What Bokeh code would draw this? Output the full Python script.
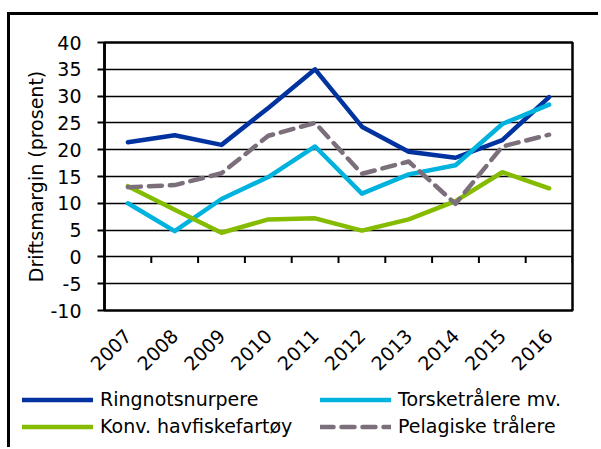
from bokeh.plotting import figure
from bokeh.layouts import column
from bokeh.models import FixedTicker, Legend, LegendItem, Range1d
from bokeh.embed import file_html
from bokeh.resources import INLINE

years = ["2007", "2008", "2009", "2010", "2011", "2012", "2013", "2014", "2015", "2016"]
ringnot = [21.4, 22.7, 20.9, 27.8, 35.0, 24.3, 19.6, 18.5, 21.8, 29.8]
torske = [10.0, 4.8, 10.8, 14.9, 20.6, 11.8, 15.4, 17.1, 24.8, 28.4]
konv = [13.2, 8.8, 4.5, 7.0, 7.2, 4.9, 7.0, 10.4, 15.8, 12.8]
pelagisk = [13.0, 13.4, 15.6, 22.6, 25.0, 15.5, 17.8, 9.9, 20.6, 22.8]
y_ticks = [-10, -5, 0, 5, 10, 15, 20, 25, 30, 35, 40]

FONT = "DejaVu Sans"
FS = "19px"
x = list(range(len(years)))
colors = ["#0033A0", "#00B2DE", "#86BC00", "#7B6F7B"]
dashes = ["solid", "solid", "solid", "13 8"]
series = [ringnot, torske, konv, pelagisk]
common = dict(line_width=4.5, line_cap="round", line_join="round")

W = 588
p = figure(width=W, height=366, output_backend="svg", toolbar_location=None,
           x_range=Range1d(-0.5, len(years) - 0.5), y_range=Range1d(y_ticks[0], y_ticks[-1]),
           min_border_left=94, min_border_right=26, min_border_top=27, min_border_bottom=71)

p.outline_line_color = "black"
p.outline_line_width = 2.5
p.xgrid.visible = False
p.ygrid.ticker = FixedTicker(ticks=y_ticks)
p.ygrid.grid_line_color = "black"
p.ygrid.grid_line_width = 1.6

p.yaxis.ticker = FixedTicker(ticks=y_ticks)
p.yaxis.major_label_overrides = {t: str(t) for t in y_ticks}
p.yaxis.axis_line_width = 2.5
p.yaxis.major_tick_line_width = 2
p.yaxis.major_tick_out = 7
p.yaxis.major_tick_in = 0
p.yaxis.minor_tick_line_color = None
p.yaxis.major_label_standoff = 16
p.yaxis.major_label_text_font = FONT
p.yaxis.major_label_text_font_size = FS
p.yaxis.major_label_text_color = "black"
p.yaxis.axis_label = "Driftsmargin (prosent)"
p.yaxis.axis_label_text_font = FONT
p.yaxis.axis_label_text_font_size = FS
p.yaxis.axis_label_text_font_style = "normal"
p.yaxis.axis_label_text_color = "black"
p.yaxis.axis_label_standoff = 0

p.xaxis.ticker = FixedTicker(ticks=x)
p.xaxis.major_label_overrides = {i: yv for i, yv in enumerate(years)}
p.xaxis.axis_line_color = None
p.xaxis.major_tick_line_color = None
p.xaxis.minor_tick_line_color = None
p.xaxis.major_label_orientation = 0.785398
p.xaxis.major_label_standoff = 16
p.xaxis.major_label_text_font = FONT
p.xaxis.major_label_text_font_size = FS
p.xaxis.major_label_text_color = "black"

# category-boundary ticks on the zero line
bounds = [i - 0.5 for i in range(len(years) + 1)]
p.segment(x0=bounds, y0=[0] * len(bounds), x1=bounds, y1=[-1.15] * len(bounds),
          line_color="black", line_width=2)

for s, c, d in zip(series, colors, dashes):
    p.line(x, s, line_color=c, line_dash=d, **common)

# legend strip (its own figure, lines kept outside the visible range)
q = figure(width=W, height=66, output_backend="svg", toolbar_location=None,
           x_range=Range1d(100, 101), y_range=Range1d(100, 101),
           x_axis_location=None, y_axis_location=None, min_border=0,
           min_border_left=0, min_border_right=0, min_border_top=0, min_border_bottom=0)
q.grid.visible = False
q.outline_line_color = None
for fig in (p, q):
    try:
        fig.frame_align = False
    except Exception:
        pass
rs = [q.line(x, s, line_color=c, line_dash=d, **common) for s, c, d in zip(series, colors, dashes)]

def make_legend(items, loc):
    lg = Legend(items=items, location=loc, orientation="vertical")
    lg.border_line_color = None
    lg.background_fill_alpha = 0
    lg.padding = 0
    lg.margin = 0
    lg.spacing = 5
    lg.glyph_width = 71
    lg.glyph_height = 21
    lg.label_height = 21
    lg.label_standoff = 7
    lg.label_text_font = FONT
    lg.label_text_font_size = FS
    lg.label_text_color = "black"
    lg.label_text_baseline = "middle"
    return lg

q.add_layout(make_legend([LegendItem(label="Ringnotsnurpere", renderers=[rs[0]]),
                          LegendItem(label="Konv. havfiskefartøy", renderers=[rs[2]])], (12, 10)))
q.add_layout(make_legend([LegendItem(label="Torsketrålere mv.", renderers=[rs[1]]),
                          LegendItem(label="Pelagiske trålere", renderers=[rs[3]])], (310, 10)))

layout = column(p, q, spacing=0)
layout.styles = {"border-top": "3px solid black", "border-left": "3px solid black",
                 "margin-top": "12px", "margin-left": "7px"}

open("out.html", "w").write(file_html(layout, INLINE))
